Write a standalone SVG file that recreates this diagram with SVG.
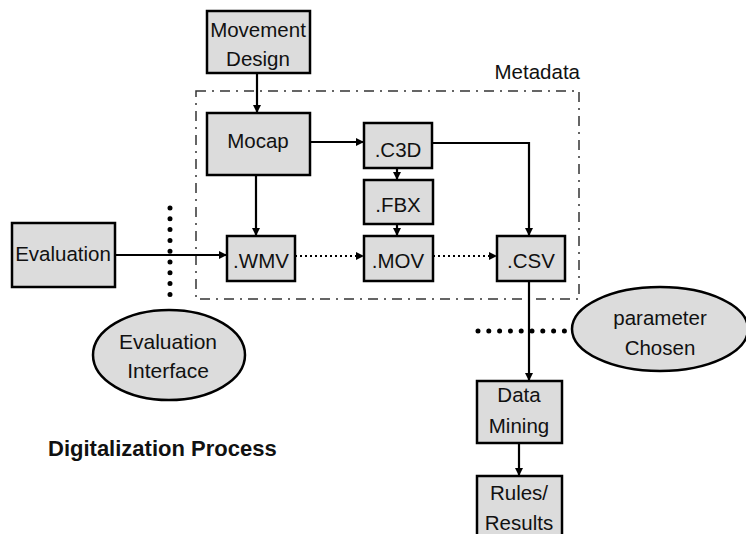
<svg xmlns="http://www.w3.org/2000/svg" width="746" height="534" viewBox="0 0 746 534">
<style>
.box{fill:#dcdcdc;stroke:#000;stroke-width:2.5}
.t{font-family:"Liberation Sans",Arial,sans-serif;font-size:20.5px;fill:#111;text-anchor:middle}
.ln{stroke:#000;stroke-width:2.2;fill:none}
.dt{stroke:#000;stroke-width:2;fill:none;stroke-dasharray:2 3}
.big{stroke:#000;stroke-width:5;stroke-linecap:round;stroke-dasharray:0 10.8;fill:none}
</style>
<defs>
<marker id="ah" viewBox="0 0 10 10" refX="10" refY="5" markerWidth="10" markerHeight="8" markerUnits="userSpaceOnUse" orient="auto">
<path d="M0,0 L10,5 L0,10 z" fill="#000"/>
</marker>
</defs>
<rect width="746" height="534" fill="#fff"/>
<g id="metadata">
<rect x="196" y="91" width="383" height="208" fill="none" stroke="#333" stroke-width="1.5" stroke-dasharray="10 6 2 6"/>
<text class="t" x="580" y="79" style="text-anchor:end">Metadata</text>
</g>
<g id="connectors">
<path class="ln" d="M257,73 V113" marker-end="url(#ah)"/>
<path class="ln" d="M310,142 H364" marker-end="url(#ah)"/>
<path class="ln" d="M432,143 H529 V236" marker-end="url(#ah)"/>
<path class="ln" d="M397,168 V180" marker-end="url(#ah)"/>
<path class="ln" d="M397,224 V236" marker-end="url(#ah)"/>
<path class="ln" d="M256,175 V236" marker-end="url(#ah)"/>
<path class="ln" d="M115,255 H227" marker-end="url(#ah)"/>
<path class="dt" d="M295,256 H364" marker-end="url(#ah)"/>
<path class="dt" d="M433,256 H497" marker-end="url(#ah)"/>
<path class="ln" d="M529,281 V381" marker-end="url(#ah)"/>
<path class="ln" d="M519,443 V476" marker-end="url(#ah)"/>
<path class="big" d="M170,208 V305"/>
<path class="big" d="M478,331 H572"/>
</g>
<g id="movement-design">
<rect class="box" x="207" y="11" width="103" height="62"/>
<text class="t" x="258" y="37">Movement</text>
<text class="t" x="258" y="66">Design</text>
</g>
<g id="mocap">
<rect class="box" x="207" y="113" width="103" height="62"/>
<text class="t" x="258" y="148">Mocap</text>
</g>
<g id="c3d">
<rect class="box" x="364" y="123" width="68" height="45"/>
<text class="t" x="398" y="157">.C3D</text>
</g>
<g id="fbx">
<rect class="box" x="364" y="180" width="69" height="44"/>
<text class="t" x="398" y="212">.FBX</text>
</g>
<g id="wmv">
<rect class="box" x="227" y="236" width="68" height="45"/>
<text class="t" x="261" y="268">.WMV</text>
</g>
<g id="mov">
<rect class="box" x="364" y="236" width="69" height="45"/>
<text class="t" x="398" y="268">.MOV</text>
</g>
<g id="csv">
<rect class="box" x="497" y="236" width="68" height="45"/>
<text class="t" x="531" y="268">.CSV</text>
</g>
<g id="evaluation">
<rect class="box" x="12" y="223" width="103" height="64"/>
<text class="t" x="63" y="261">Evaluation</text>
</g>
<g id="evaluation-interface">
<ellipse class="box" cx="169" cy="355" rx="76" ry="45"/>
<text class="t" x="168" y="349" style="font-size:21px">Evaluation</text>
<text class="t" x="168" y="378" style="font-size:21px">Interface</text>
</g>
<g id="parameter-chosen">
<ellipse class="box" cx="660" cy="329" rx="88" ry="42"/>
<text class="t" x="660" y="325">parameter</text>
<text class="t" x="660" y="355">Chosen</text>
</g>
<g id="data-mining">
<rect class="box" x="477" y="381" width="85" height="62"/>
<text class="t" x="519" y="402">Data</text>
<text class="t" x="519" y="433">Mining</text>
</g>
<g id="rules-results">
<rect class="box" x="477" y="476" width="85" height="62"/>
<text class="t" x="519" y="500">Rules/</text>
<text class="t" x="519" y="530">Results</text>
</g>
<text x="48" y="456" style="font-family:'Liberation Sans',Arial,sans-serif;font-size:22px;font-weight:bold;fill:#111">Digitalization Process</text>
</svg>
